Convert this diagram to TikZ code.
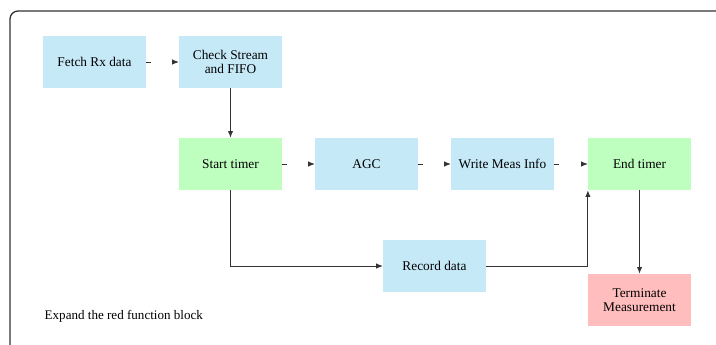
\documentclass[tikz,border=0pt]{standalone}
\usepackage{fontspec}
\setmainfont{Liberation Serif}
\usepackage{tikz}
\usetikzlibrary{arrows.meta,calc}
\definecolor{blkblue}{HTML}{C6E9F8}
\definecolor{blkgreen}{HTML}{BEFFBF}
\definecolor{blkred}{HTML}{FFBDBD}
\tikzstyle{edge}=[>={Latex[length=5pt,width=4pt]}, line width=0.7pt, draw=black!80]
\tikzstyle{gapedge}=[edge, dash pattern=on 4pt off 40pt]

\begin{document}
\begin{tikzpicture}[x=0.75pt,y=-0.75pt,
          blk/.style={rectangle,minimum width=77pt,minimum height=39pt,align=center,
            inner sep=2pt,font=\fontsize{10}{11}\selectfont},
          bluebox/.style={blk,fill=blkblue},
          greenbox/.style={blk,fill=blkgreen},
          redbox/.style={blk,fill=blkred}]
        \clip (0,0) rectangle (716,344);
        \draw[line width=1pt,draw=black!80,rounded corners=6pt] (10,11) rectangle (740,370);
        \node [bluebox]  (fetch)  at (94.5,62)  {Fetch Rx data};
        \node [bluebox]  (check)  at (230.5,62) {Check Stream\\and FIFO};
        \node [greenbox] (start)  at (230.5,164) {Start timer};
        \node [bluebox]  (agc)    at (366.5,164) {AGC};
        \node [bluebox]  (write)  at (502.5,164) {Write Meas Info};
        \node [greenbox] (endt)   at (639.5,164) {End timer};
        \node [bluebox]  (record) at (434.5,266) {Record data};
        \node [redbox]   (term)   at (639.5,300) {Terminate\\Measurement};
        \node [anchor=west,font=\fontsize{9.8}{11}\selectfont] (note) at (40,316) {Expand the red function block};
        \path[->]
        (fetch) edge [gapedge] (check)
        (start) edge [gapedge] (agc)
        (agc)   edge [gapedge] (write)
        (write) edge [gapedge] (endt)
        (check) edge [edge] (start)
        (endt)  edge [edge] (term);
        \draw[edge,->] (start.south) |- (record.west);
        \draw[edge,->] (record.east) -| (endt.south west);
      \end{tikzpicture}
\end{document}
